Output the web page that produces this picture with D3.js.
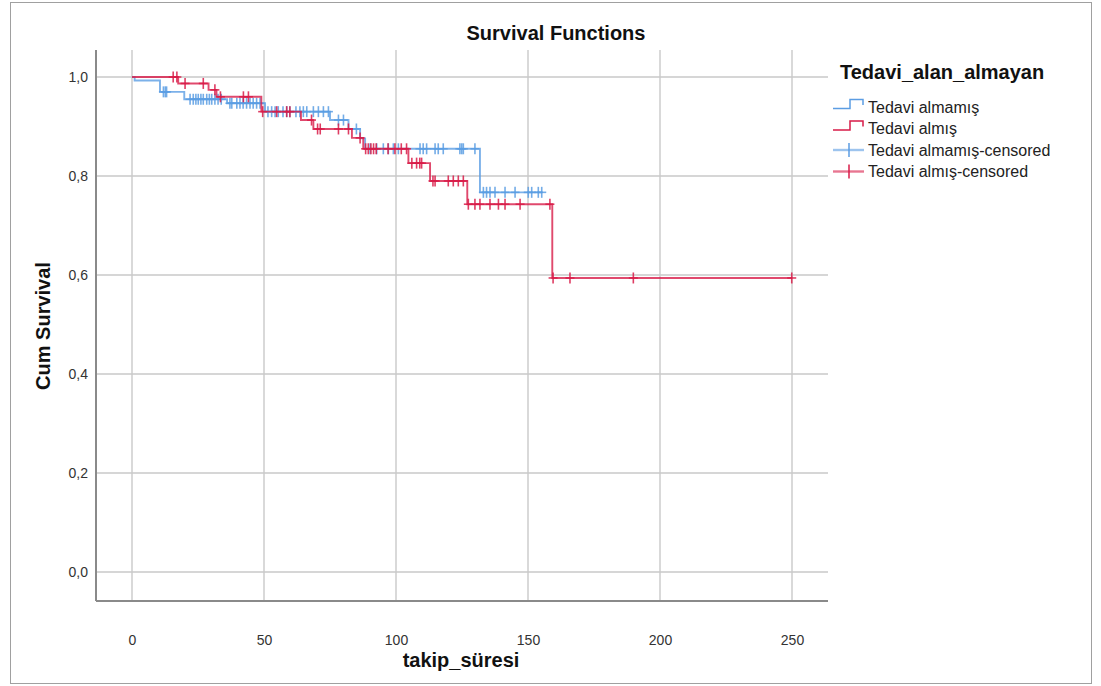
<!DOCTYPE html>
<html><head><meta charset="utf-8">
<script src="https://cdn.jsdelivr.net/npm/d3@7"></script>
<style>body{margin:0;background:#fff;}svg{display:block;font-family:"Liberation Sans",Arial,sans-serif;}</style>
</head><body>
<svg id="c" width="1101" height="686"></svg>
<script>
// ---- data ----
const seriesNames = ["Tedavi almamış", "Tedavi almış"];
const legendLabels = ["Tedavi almamış", "Tedavi almış", "Tedavi almamış-censored", "Tedavi almış-censored"];
const xTicks = [0, 50, 100, 150, 200, 250];
const yTicks = [0, 0.2, 0.4, 0.6, 0.8, 1.0];
const yTickLabels = ["0,0", "0,2", "0,4", "0,6", "0,8", "1,0"];

// Tedavi almamış (blue): event times and survival after event
const blueEventTimes = [1, 10.6, 19.8, 36, 50.4, 75, 82, 86.4, 88.3, 131.8];
const blueEventSurv  = [0.993, 0.970, 0.955, 0.947, 0.930, 0.913, 0.895, 0.876, 0.855, 0.767];
const blueCensored = [11.9, 12.6, 13.1,
  22.0, 23.2, 24.2, 25.1, 26.1, 27.0, 28.3, 29.3, 30.2, 31.4, 32.6, 33.8,
  37.1, 37.8, 39.7, 40.9, 42.1, 43.4, 44.7, 45.9, 47.2, 48.5,
  51.5, 52.9, 54.2, 55.4, 57.2, 58.6, 59.8, 62.1, 63.6, 64.9, 66.2, 68.7, 70.6, 72.5, 74.4,
  78.2, 80.1, 85,
  90.2, 92.7, 95.2, 97.1, 99, 100.9, 109.1, 110.3, 111.6, 114.8, 116, 117.9, 124.2, 124.9, 125.5, 129.9,
  133.1, 134.3, 135.6, 137.5, 141.3, 145.1, 150.1, 151.4, 153.9, 155.2];

// Tedavi almış (red)
const redEventTimes = [17.5, 29, 32, 49, 64, 68.7, 83.3, 87.6, 104.7, 112.9, 127, 159.2];
const redEventSurv  = [0.987, 0.974, 0.960, 0.930, 0.913, 0.895, 0.877, 0.855, 0.826, 0.790, 0.743, 0.594];
const redCensored = [15.6, 17.0, 20.1, 27, 31.4, 33.5, 42.2, 44.1,
  49.5, 54.8, 58.6, 59.8, 68, 70.3, 71.3, 78.2, 82, 86.4,
  88.5, 89.5, 90.5, 91.5, 92.5, 97, 99.6, 102, 104,
  106, 107.8, 109, 109.7, 114, 114.8, 119.8, 121.7, 123.6, 125.5,
  127.4, 129.9, 131.8, 135.6, 138.8, 141.3, 147, 158.3,
  159.5, 165.9, 189.9, 249.9];

const colors = ["#5b9de3", "#d81b48"];

// ---- layout ----
const svg = d3.select("#c");
const plotL = 96, plotR = 828, plotT = 50, plotB = 601;
const x = d3.scaleLinear().domain([0, 250]).range([132, 792]);
const y = d3.scaleLinear().domain([0, 1]).range([572, 77]);

// outer frame
svg.append("rect").attr("x", 10.5).attr("y", 2.5).attr("width", 1081).attr("height", 681)
  .attr("fill", "none").attr("stroke", "#a0a0a0").attr("stroke-width", 1);

// gridlines
svg.append("g").selectAll("line").data(xTicks).join("line")
  .attr("x1", d => x(d)).attr("x2", d => x(d)).attr("y1", plotT).attr("y2", plotB)
  .attr("stroke", "#c9c9c9").attr("stroke-width", 1.4);
svg.append("g").selectAll("line").data(yTicks).join("line")
  .attr("x1", plotL).attr("x2", plotR).attr("y1", d => y(d)).attr("y2", d => y(d))
  .attr("stroke", "#c9c9c9").attr("stroke-width", 1.4);

// axis lines
svg.append("line").attr("x1", plotL).attr("x2", plotL).attr("y1", plotT).attr("y2", plotB)
  .attr("stroke", "#8a8a8a").attr("stroke-width", 2);
svg.append("line").attr("x1", plotL).attr("x2", plotR).attr("y1", plotB).attr("y2", plotB)
  .attr("stroke", "#8a8a8a").attr("stroke-width", 2);

// axes (labels only)
const xAxis = d3.axisBottom(x).tickValues(xTicks).tickSize(0).tickFormat(d3.format("d"));
const gx = svg.append("g").attr("transform", `translate(0,${plotB})`).call(xAxis);
gx.select(".domain").remove();
gx.selectAll("text").attr("dy", null).attr("y", 44).attr("font-size", 14)
  .attr("fill", "#333").attr("font-family", "Liberation Sans, Arial, sans-serif");

const yAxis = d3.axisLeft(y).tickValues(yTicks).tickSize(0).tickFormat((d, i) => yTickLabels[i]);
const gy = svg.append("g").attr("transform", `translate(${plotL},0)`).call(yAxis);
gy.select(".domain").remove();
gy.selectAll("text").attr("x", -8).attr("font-size", 14)
  .attr("fill", "#333").attr("font-family", "Liberation Sans, Arial, sans-serif");

// titles
svg.append("text").attr("x", 556).attr("y", 40).attr("text-anchor", "middle")
  .attr("font-size", 20).attr("font-weight", "bold").attr("fill", "#111").text("Survival Functions");
svg.append("text").attr("x", 461).attr("y", 667).attr("text-anchor", "middle")
  .attr("font-size", 20).attr("font-weight", "bold").attr("fill", "#111").text("takip_süresi");
svg.append("text").attr("transform", "translate(50,326) rotate(-90)").attr("text-anchor", "middle")
  .attr("font-size", 20).attr("font-weight", "bold").attr("fill", "#111").text("Cum Survival");

// survival helpers
function stepPoints(times, surv, endTime) {
  const pts = [[0, 1]];
  times.forEach((t, i) => pts.push([t, surv[i]]));
  pts.push([endTime, surv[surv.length - 1]]);
  return pts;
}
function survAt(t, times, surv) {
  let s = 1;
  times.forEach((et, i) => { if (et <= t) s = surv[i]; });
  return s;
}

const line = d3.line().x(d => x(d[0])).y(d => y(d[1])).curve(d3.curveStepAfter);

const series = [
  { times: blueEventTimes, surv: blueEventSurv, cens: blueCensored, color: colors[0] },
  { times: redEventTimes, surv: redEventSurv, cens: redCensored, color: colors[1] }
];

series.forEach(s => {
  const endT = Math.max(d3.max(s.cens), d3.max(s.times));
  svg.append("path").datum(stepPoints(s.times, s.surv, endT)).attr("d", line)
    .attr("fill", "none").attr("stroke", s.color).attr("stroke-width", 1.9).attr("stroke-opacity", 0.8);
  const g = svg.append("g").attr("stroke", s.color).attr("stroke-width", 1.6).attr("stroke-opacity", 0.85);
  s.cens.forEach(t => {
    const cx = x(t), cy = y(survAt(t, s.times, s.surv));
    g.append("line").attr("x1", cx).attr("x2", cx).attr("y1", cy - 5.5).attr("y2", cy + 5.5);
    g.append("line").attr("x1", cx - 4.5).attr("x2", cx + 4.5).attr("y1", cy).attr("y2", cy);
  });
});

// legend
const lg = svg.append("g");
lg.append("text").attr("x", 840).attr("y", 79).attr("font-size", 20).attr("font-weight", "bold")
  .attr("fill", "#111").text("Tedavi_alan_almayan");
const itemY = [107, 128.5, 150, 171.5];
legendLabels.forEach((lab, i) => {
  const c = colors[i % 2];
  const cy = itemY[i];
  if (i < 2) {
    lg.append("path").attr("d", `M833,${cy + 1.5}H850V${cy - 7.5}H863V${cy - 2}`)
      .attr("fill", "none").attr("stroke", c).attr("stroke-width", 1.5);
  } else {
    lg.append("line").attr("x1", 833).attr("x2", 864).attr("y1", cy).attr("y2", cy)
      .attr("stroke", c).attr("stroke-width", 2.4).attr("stroke-opacity", 0.6);
    lg.append("line").attr("x1", 849).attr("x2", 849).attr("y1", cy - 7).attr("y2", cy + 7)
      .attr("stroke", c).attr("stroke-width", 1.5);
  }
  lg.append("text").attr("x", 868).attr("y", cy + 5.5).attr("font-size", 16).attr("fill", "#222").text(lab);
});
</script>
</body></html>
